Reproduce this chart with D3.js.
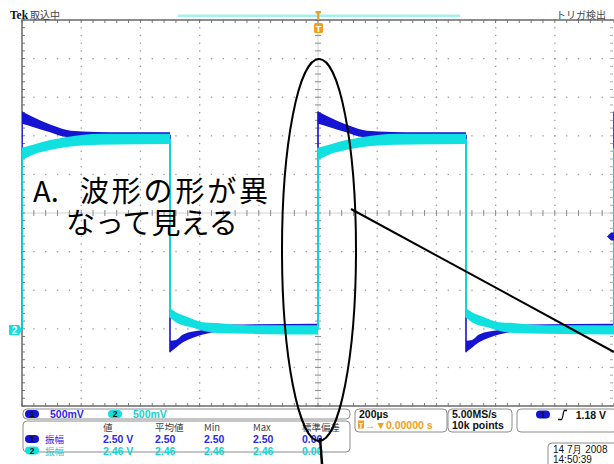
<!DOCTYPE html>
<html><head><meta charset="utf-8">
<script src="https://cdn.jsdelivr.net/npm/d3@7"></script>
<style>html,body{margin:0;padding:0;background:#fff;overflow:hidden}svg{display:block}</style>
</head><body>
<svg id="scope" width="614" height="464"></svg>
<script>
// ---- acquisition setup ----
const timeDomain = [-1000, 1000];   // µs across the screen (200 µs/div)
const voltsPerDiv = 0.5;
const ch1Offset = -2.97;            // ground position, divisions from centre
const ch2Offset = -3.03;
const trigLevel = 1.18;             // V on CH1

// edge times of the 1 kHz square wave (µs)
const riseTimes = [-1000, 0, 1000];
const fallTimes = [-500, 500];

// trace envelopes after each edge: [µs after edge, upper V, lower V]
const ch1AfterRise = [[0,2.80,2.64],[37,2.73,2.60],[95,2.63,2.53],[152,2.56,2.47],[206,2.54,2.47],[297,2.53,2.47],[500,2.53,2.47]];
const ch1AfterFall = [[0,-0.17,-0.32],[20,-0.16,-0.26],[44,-0.09,-0.19],[78,-0.05,-0.13],[111,-0.03,-0.09],[159,0.01,-0.05],[213,0.04,0.00],[500,0.05,0.00]];
const ch2AfterRise = [[0,2.36,2.20],[37,2.40,2.27],[95,2.46,2.33],[152,2.50,2.37],[264,2.54,2.40],[500,2.54,2.41]];
const ch2AfterFall = [[0,0.28,0.16],[20,0.23,0.10],[44,0.19,0.06],[78,0.14,0.03],[111,0.10,-0.01],[159,0.09,-0.04],[270,0.06,-0.05],[500,0.06,-0.06]];

// readouts
const channelScales = [["1","500mV"],["2","500mV"]];
const measHeaders = ["値","平均値","Min","Max","標準偏差"];
const measRows = [
  {ch:"1", name:"振幅", values:["2.50 V","2.50","2.50","2.50","0.00"]},
  {ch:"2", name:"振幅", values:["2.46 V","2.46","2.46","2.46","0.00"]}
];
const timebaseText = "200µs";
const delayText = "→▼0.00000 s";
const sampleText = ["5.00MS/s","10k points"];
const trigText = "1.18 V";
const dateText = ["14 7月  2008","14:50:39"];
const notePrefix = "A.";
const noteLines = ["波形の形が異","なって見える"];

const C1 = "#1414d2", C2 = "#10e0e0", C1T = "#2a2ae6", C2T = "#14d2d2", ORANGE = "#f0a020";

const svg = d3.select("#scope");
const L = 22, R = 614, T = 20, B = 406;
const xDiv = d3.scaleLinear([0, 10], [L, R]);
const yDiv = d3.scaleLinear([-5, 5], [B, T]);
const x = d3.scaleLinear(timeDomain, [L, R]);
const y1 = v => yDiv(v / voltsPerDiv + ch1Offset);
const y2 = v => yDiv(v / voltsPerDiv + ch2Offset);

// ---- graticule ----
const grid = svg.append("g");
const minorX = d3.range(0, 50.001).map(i => xDiv(i / 5));
const minorY = d3.range(0, 50.001).map(i => yDiv(-5 + i / 5));
// dotted major lines
for (let i = 1; i < 10; i++) {
  if (i === 5) continue;
  grid.append("g").selectAll("rect").data(minorY).join("rect")
    .attr("x", xDiv(i) - 0.6).attr("y", d => d - 0.6).attr("width", 1.3).attr("height", 1.3).attr("fill", "#9a9a9a");
}
for (let j = -4; j <= 4; j++) {
  if (j === 0) continue;
  grid.append("g").selectAll("rect").data(minorX).join("rect")
    .attr("x", d => d - 0.6).attr("y", yDiv(j) - 0.6).attr("width", 1.3).attr("height", 1.3).attr("fill", "#9a9a9a");
}
// centre crosshair
grid.append("line").attr("x1", L).attr("x2", R).attr("y1", yDiv(0)).attr("y2", yDiv(0)).attr("stroke", "#d2d2d2");
grid.append("line").attr("x1", xDiv(5)).attr("x2", xDiv(5)).attr("y1", T).attr("y2", B).attr("stroke", "#d2d2d2");
grid.append("g").selectAll("line").data(minorX).join("line")
  .attr("x1", d => d).attr("x2", d => d).attr("y1", yDiv(0) - 3).attr("y2", yDiv(0) + 3).attr("stroke", "#8a8a8a");
grid.append("g").selectAll("line").data(minorY).join("line")
  .attr("y1", d => d).attr("y2", d => d).attr("x1", xDiv(5) - 3).attr("x2", xDiv(5) + 3).attr("stroke", "#8a8a8a");
// border ticks
grid.append("g").selectAll("line").data(minorX).join("line")
  .attr("x1", d => d).attr("x2", d => d).attr("y1", T).attr("y2", T + 3).attr("stroke", "#777");
grid.append("g").selectAll("line").data(minorX).join("line")
  .attr("x1", d => d).attr("x2", d => d).attr("y1", B).attr("y2", B - 3).attr("stroke", "#777");
grid.append("g").selectAll("line").data(minorY).join("line")
  .attr("y1", d => d).attr("y2", d => d).attr("x1", L).attr("x2", L + 3).attr("stroke", "#777");
grid.append("g").selectAll("line").data(minorY).join("line")
  .attr("y1", d => d).attr("y2", d => d).attr("x1", R - 1).attr("x2", R - 4).attr("stroke", "#aaa");
grid.append("path").attr("d", `M${R},${T}H${L}V${B}H${R}`).attr("fill", "none").attr("stroke", "#6a6a6a").attr("stroke-width", 1.5);

// ---- waveforms ----
svg.append("clipPath").attr("id", "plot").append("rect").attr("x", L).attr("y", T).attr("width", R - L).attr("height", B - T);
const traces = svg.append("g").attr("clip-path", "url(#plot)");

function drawTrace(yScale, afterRise, afterFall, color, edgeWidth) {
  const g = traces.append("g");
  const area = d3.area().curve(d3.curveMonotoneX)
    .x(d => x(d.t)).y0(d => yScale(d.lo)).y1(d => yScale(d.hi));
  const edges = [...riseTimes.map(t => ({t, env: afterRise, rise: true})),
                 ...fallTimes.map(t => ({t, env: afterFall, rise: false}))].sort((a, b) => a.t - b.t);
  edges.forEach(e => {
    const seg = e.env.map(([dt, hi, lo]) => ({t: e.t + dt, hi, lo})).filter(d => d.t <= timeDomain[1]);
    if (seg.length > 1) g.append("path").attr("d", area(seg)).attr("fill", color);
    // vertical transition from the previous settled level
    const prevEnv = e.rise ? afterFall : afterRise;
    const last = prevEnv[prevEnv.length - 1];
    const from = (last[1] + last[2]) / 2;
    const to = e.rise ? e.env[0][1] : e.env[0][2];
    g.append("line").attr("x1", x(e.t)).attr("x2", x(e.t))
      .attr("y1", yScale(from)).attr("y2", yScale(to))
      .attr("stroke", color).attr("stroke-width", edgeWidth);
  });
}
drawTrace(y1, ch1AfterRise, ch1AfterFall, C1, 1.6);
drawTrace(y2, ch2AfterRise, ch2AfterFall, C2, 1.8);

// ---- markers ----
// CH2 ground marker
svg.append("path").attr("d", `M9,${y2(0) - 5}H19L22,${y2(0)}L19,${y2(0) + 5}H9Z`).attr("fill", C2);
svg.append("text").attr("x", 14.5).attr("y", y2(0) + 4).attr("text-anchor", "middle")
  .attr("font-family", "Liberation Sans").attr("font-weight", "bold").attr("font-size", 10).attr("fill", "#fff").text("2");
// trigger level arrow
svg.append("path").attr("d", `M607,${y1(trigLevel)}L611,${y1(trigLevel) - 4}H614V${y1(trigLevel) + 4}H611Z`).attr("fill", C1);
// record view bar and trigger position
svg.append("rect").attr("x", 178).attr("y", 14.5).attr("width", 282).attr("height", 2.5).attr("fill", "#a4f0f0");
svg.append("path").attr("d", `M315.5,11H321V13.5H319.4V20H317.1V13.5H315.5Z`).attr("fill", ORANGE);
svg.append("rect").attr("x", 314).attr("y", 23).attr("width", 9).attr("height", 10).attr("rx", 1.5).attr("fill", ORANGE);
svg.append("text").attr("x", 318.5).attr("y", 31.5).attr("text-anchor", "middle")
  .attr("font-family", "Liberation Sans").attr("font-weight", "bold").attr("font-size", 9).attr("fill", "#fff").text("T");

// ---- status line ----
svg.append("text").attr("x", 10).attr("y", 18.5).attr("font-family", "Liberation Serif").attr("font-weight", "bold")
  .attr("font-size", 11.5).attr("fill", "#111").text("Tek");
svg.append("text").attr("x", 30).attr("y", 18.5).attr("font-family", "Noto Sans CJK JP")
  .attr("font-size", 10).attr("fill", "#444").text("取込中");
svg.append("text").attr("x", 606).attr("y", 18.5).attr("text-anchor", "end").attr("font-family", "Noto Sans CJK JP")
  .attr("font-size", 10).attr("fill", "#444").text("トリガ検出");

// ---- readout panels ----
const panel = (x0, y0, w, h) => svg.append("rect").attr("x", x0).attr("y", y0).attr("width", w).attr("height", h)
  .attr("rx", 4).attr("fill", "#fff").attr("stroke", "#8c8c8c").attr("stroke-width", 1);
const txt = (x0, y0, s, color, opts = {}) => svg.append("text").attr("x", x0).attr("y", y0)
  .attr("font-family", opts.family || "Liberation Sans").attr("font-weight", opts.weight || "bold")
  .attr("font-size", opts.size || 10.5).attr("fill", color).attr("text-anchor", opts.anchor || "start").text(s);
const pill = (cx, cy, color, label) => {
  svg.append("rect").attr("x", cx - 7).attr("y", cy - 4).attr("width", 14).attr("height", 8).attr("rx", 4).attr("fill", color);
  txt(cx, cy + 3.2, label, "#111", {size: 8.5, anchor: "middle"});
};

panel(23, 409, 327, 10);
pill(32, 414, C1, channelScales[0][0]);
txt(50, 418, channelScales[0][1], C1T);
pill(115, 414, C2, channelScales[1][0]);
txt(133, 418, channelScales[1][1], C2T);

panel(23, 421, 327, 31);
const colX = [103, 155, 204, 253, 302];
measHeaders.forEach((h, i) => txt(colX[i], 431, h, "#444", {family: "Noto Sans CJK JP", weight: "normal", size: 9.5}));
measRows.forEach((r, k) => {
  const yy = 443 + k * 11.5;
  const col = k === 0 ? C1T : C2T;
  pill(32, yy - 4, k === 0 ? C1 : C2, r.ch);
  txt(45, yy, r.name, col, {family: "Noto Sans CJK JP", weight: "normal", size: 9.5});
  r.values.forEach((v, i) => txt(colX[i], yy, v, col));
});

panel(355, 409, 92, 23);
txt(359, 418, timebaseText, "#111");
svg.append("rect").attr("x", 358).attr("y", 420.5).attr("width", 6).attr("height", 8).attr("fill", ORANGE);
txt(361, 427.5, "T", "#fff", {size: 7, anchor: "middle"});
txt(365, 428.5, delayText, ORANGE);

panel(448, 409, 64, 23);
txt(452, 418, sampleText[0], "#111");
txt(452, 429, sampleText[1], "#111");

panel(517, 409, 100, 23);
pill(543, 414.5, C1, "1");
svg.append("path").attr("d", "M558,419.5H561.5C563,419.5 563,410.5 564.5,410.5H567").attr("fill", "none").attr("stroke", "#111").attr("stroke-width", 1.3);
txt(606, 418.5, trigText, "#111", {anchor: "end"});

panel(548, 443, 70, 25);
txt(553, 452.5, dateText[0], "#111", {weight: "normal", size: 10});
txt(553, 462.5, dateText[1], "#111", {weight: "normal", size: 10});

// ---- annotation ----
const note = svg.append("g").attr("font-family", "Noto Sans CJK JP").attr("font-size", 29).attr("fill", "#000");
note.append("text").attr("x", 33).attr("y", 202).text(notePrefix);
note.append("text").attr("x", 80).attr("y", 202).attr("textLength", 188).attr("lengthAdjust", "spacing").text(noteLines[0]);
note.append("text").attr("x", 66).attr("y", 234).text(noteLines[1]);
note.append("ellipse").attr("cx", 319).attr("cy", 250).attr("rx", 37).attr("ry", 191)
  .attr("fill", "none").attr("stroke", "#000").attr("stroke-width", 2);
note.append("line").attr("x1", 320).attr("y1", 438).attr("x2", 322).attr("y2", 464).attr("stroke", "#000").attr("stroke-width", 2.5);
note.append("line").attr("x1", 351).attr("y1", 209).attr("x2", 614).attr("y2", 352).attr("stroke", "#000").attr("stroke-width", 2);
</script>
</body></html>
